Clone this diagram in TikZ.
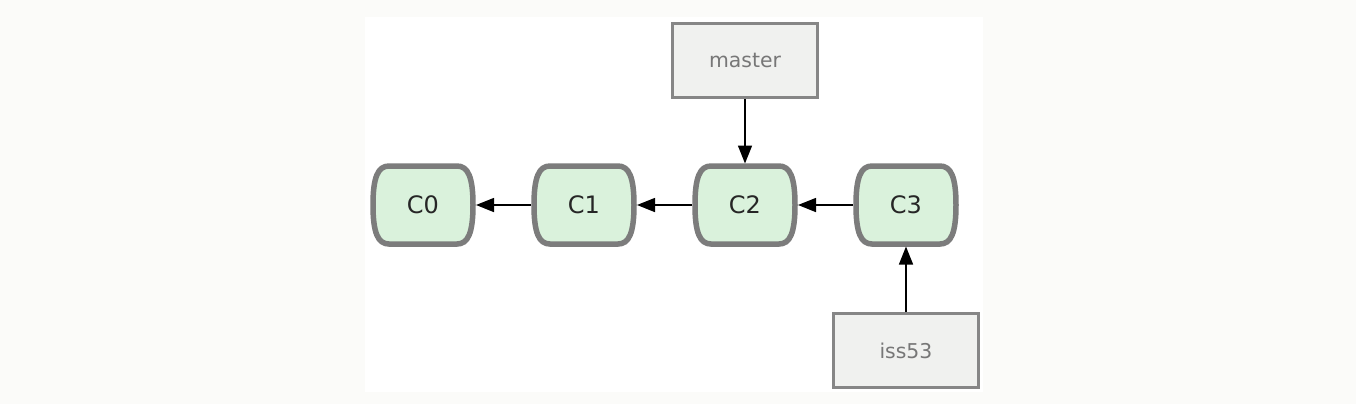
\documentclass[tikz,border=0pt]{standalone}
\usepackage{fontspec}
\setmainfont{DejaVu Sans}
\usetikzlibrary{arrows.meta}
\definecolor{outerbg}{HTML}{FBFBF9}
\definecolor{commitfill}{HTML}{DAF2DC}
\definecolor{commitdraw}{HTML}{7C7C7C}
\definecolor{reffill}{HTML}{F0F1EF}
\definecolor{refdraw}{HTML}{868686}
\definecolor{reftext}{HTML}{777777}
\tikzset{
  commitline/.style={draw=commitdraw, fill=commitfill, line width=2.75pt},
  commit/.style={minimum width=53pt, minimum height=41.5pt, outer sep=0pt,
    inner sep=0pt, font=\fontsize{12pt}{14pt}\selectfont, text=black!85},
  ref/.style={draw=refdraw, fill=reffill, line width=1.5pt,
    minimum width=72.5pt, minimum height=37pt, inner sep=0pt,
    font=\fontsize{10.2pt}{12pt}\selectfont, text=reftext},
  link/.style={line width=0.75pt, -{Triangle[length=9pt,width=7pt]}}
}
\newcommand\gitcommitshape[1]{%
  \begin{scope}[shift={(#1)}]
    \draw[commitline] (-34,-39) -- (34,-39)
      .. controls (45,-39) and (50,-28) .. (50,0)
      .. controls (50,28) and (45,39) .. (34,39)
      -- (-34,39)
      .. controls (-45,39) and (-50,28) .. (-50,0)
      .. controls (-50,-28) and (-45,-39) .. (-34,-39) -- cycle;
  \end{scope}}
\begin{document}
\begin{tikzpicture}[x=0.5pt,y=-0.5pt]
\useasboundingbox (0,0) rectangle (1356,404);
\fill[outerbg] (0,0) rectangle (1356,404);
\fill[white] (365,17) rectangle (983,392);
\coordinate (p0) at (423,205);
\coordinate (p1) at (584,205);
\coordinate (p2) at (745,205);
\coordinate (p3) at (906,205);
\gitcommitshape{p0}
\gitcommitshape{p1}
\gitcommitshape{p2}
\gitcommitshape{p3}
\node[commit] (c0) at (p0) {C0};
\node[commit] (c1) at (p1) {C1};
\node[commit] (c2) at (p2) {C2};
\node[commit] (c3) at (p3) {C3};
\node[ref] (master) at (745,60.5) {master};
\node[ref] (iss) at (906,350.5) {iss53};
\draw[link] (c1) -- (c0);
\draw[link] (c2) -- (c1);
\draw[link] (c3) -- (c2);
\draw[link] (master) -- (c2);
\draw[link] (iss) -- (c3);
\end{tikzpicture}
\end{document}
